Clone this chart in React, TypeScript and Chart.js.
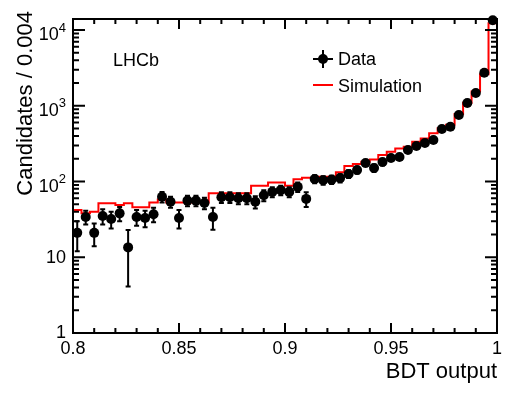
import React, { useEffect, useRef } from "react";
import { Chart, registerables } from "chart.js";
Chart.register(...registerables);

const FONT = '"Liberation Sans", Arial, Helvetica, sans-serif';

const X_MIN = 0.8;
const X_MAX = 1.0;
const BIN_WIDTH = 0.004;
const Y_MIN = 1;
const Y_MAX = 14000;

const xMajorTicks = [0.8, 0.85, 0.9, 0.95, 1.0];
const xTickLabels = ["0.8", "0.85", "0.9", "0.95", "1"];
const xMinorTicks = [0.81, 0.82, 0.83, 0.84, 0.86, 0.87, 0.88, 0.89, 0.91, 0.92, 0.93, 0.94, 0.96, 0.97, 0.98, 0.99];
const yDecadeExponents = [0, 1, 2, 3, 4];

const dataValues = [
  21, 34, 21, 35, 32, 38, 13.5, 34, 33, 37,
  63, 54, 33, 56, 56, 52, 34, 62, 62, 60,
  60, 54, 66, 73, 77, 73, 85, 59, 108, 104,
  106, 111, 126, 142, 176, 151, 181, 204, 211, 261,
  294, 322, 353, 493, 529, 755, 1087, 1473, 2730, 13500,
];
const dataErrors = [
  9, 7, 7, 8, 8, 8, 9.4, 8, 8, 8,
  10, 9, 9, 9, 9, 9, 11, 10, 10, 10,
  10, 10, 11, 11, 11, 11, 12, 13, 13, 13,
  13, 14, 15, 15, 17, 17, 18, 18, 19, 20,
  22, 23, 24, 28, 29, 35, 42, 48, 65, 140,
];
const simValues = [
  42, 38, 40, 51.5, 51.5, 49, 51.5, 45.7, 45.7, 53,
  58, 53, 53, 53, 53, 53, 70, 70, 70, 70,
  70, 88, 88, 97, 97, 88, 107, 112, 112, 116,
  116, 133, 160, 170, 183, 196, 224, 247, 274, 288,
  335, 371, 433, 504, 560, 780, 1100, 1550, 2600, 12300,
];

const binLow = (i: number) => X_MIN + i * BIN_WIDTH;

const rootStylePlugin = {
  id: "rootStyle",
  beforeDatasetDraw(chart: any, args: any) {
    if (args.index !== 0) return;
    const { ctx } = chart;
    const xs = chart.scales.x;
    const ys = chart.scales.y;
    ctx.save();
    ctx.strokeStyle = "#000";
    ctx.lineWidth = 2;
    dataValues.forEach((v, i) => {
      const e = dataErrors[i];
      const px = xs.getPixelForValue(binLow(i) + BIN_WIDTH / 2);
      const lo = Math.max(v - e, Y_MIN);
      const hi = Math.min(v + e, Y_MAX * 1.2);
      const pLo = ys.getPixelForValue(lo);
      const pHi = ys.getPixelForValue(hi);
      ctx.beginPath();
      ctx.moveTo(px, pLo);
      ctx.lineTo(px, pHi);
      ctx.moveTo(px - 2.5, pLo);
      ctx.lineTo(px + 2.5, pLo);
      ctx.moveTo(px - 2.5, pHi);
      ctx.lineTo(px + 2.5, pHi);
      ctx.stroke();
    });
    ctx.restore();
  },
  afterDraw(chart: any) {
    const { ctx, chartArea } = chart;
    const { left, right, top, bottom } = chartArea;
    const xs = chart.scales.x;
    const ys = chart.scales.y;
    ctx.save();
    ctx.strokeStyle = "#000";
    ctx.fillStyle = "#000";
    ctx.lineWidth = 2;
    ctx.lineCap = "butt";
    // frame
    ctx.strokeRect(left, top, right - left, bottom - top);
    // x ticks
    const drawX = (v: number, len: number) => {
      const px = xs.getPixelForValue(v);
      ctx.beginPath();
      ctx.moveTo(px, bottom);
      ctx.lineTo(px, bottom - len);
      ctx.moveTo(px, top);
      ctx.lineTo(px, top + len);
      ctx.stroke();
    };
    xMajorTicks.forEach((v) => drawX(v, 10));
    xMinorTicks.forEach((v) => drawX(v, 5));
    // y ticks
    yDecadeExponents.forEach((d) => {
      for (let k = 1; k <= 9; k++) {
        const v = k * Math.pow(10, d);
        if (v > Y_MAX) break;
        const py = ys.getPixelForValue(v);
        const len = k === 1 ? 12 : 6;
        ctx.beginPath();
        ctx.moveTo(left, py);
        ctx.lineTo(left + len, py);
        ctx.moveTo(right, py);
        ctx.lineTo(right - len, py);
        ctx.stroke();
      }
    });
    // x labels
    ctx.font = `18px ${FONT}`;
    ctx.textAlign = "center";
    ctx.textBaseline = "middle";
    xMajorTicks.forEach((v, i) => {
      ctx.fillText(xTickLabels[i], xs.getPixelForValue(v), bottom + 16);
    });
    // y labels
    yDecadeExponents.forEach((d) => {
      const py = ys.getPixelForValue(Math.pow(10, d));
      const xr = left - 7;
      ctx.textBaseline = "middle";
      ctx.textAlign = "right";
      if (d === 0) {
        ctx.font = `18px ${FONT}`;
        ctx.fillText("1", xr, py);
      } else if (d === 1) {
        ctx.font = `18px ${FONT}`;
        ctx.fillText("10", xr, py + 1);
      } else {
        ctx.font = `13px ${FONT}`;
        const exp = String(d);
        const ew = ctx.measureText(exp).width;
        ctx.fillText(exp, xr, py - 2);
        ctx.font = `18px ${FONT}`;
        ctx.fillText("10", xr - ew, py + 5);
      }
    });
    // axis titles
    ctx.font = `22px ${FONT}`;
    ctx.textAlign = "right";
    ctx.textBaseline = "alphabetic";
    ctx.fillText("BDT output", right, bottom + 45);
    ctx.save();
    ctx.translate(32, 11);
    ctx.rotate(-Math.PI / 2);
    ctx.textAlign = "right";
    ctx.fillText("Candidates / 0.004", 0, 0);
    ctx.restore();
    // LHCb
    ctx.font = `18px ${FONT}`;
    ctx.textAlign = "left";
    ctx.textBaseline = "alphabetic";
    ctx.fillText("LHCb", 113, 66);
    // legend
    const mx = 323;
    const my = 59;
    ctx.beginPath();
    ctx.moveTo(mx - 10, my);
    ctx.lineTo(mx + 10, my);
    ctx.moveTo(mx, my - 9);
    ctx.lineTo(mx, my + 9);
    ctx.stroke();
    ctx.beginPath();
    ctx.arc(mx, my, 5, 0, Math.PI * 2);
    ctx.fill();
    ctx.fillText("Data", 338, 65);
    ctx.strokeStyle = "#ff0000";
    ctx.beginPath();
    ctx.moveTo(313, 85);
    ctx.lineTo(333, 85);
    ctx.stroke();
    ctx.fillText("Simulation", 338, 92);
    ctx.restore();
  },
};

export default function App() {
  const canvasRef = useRef<HTMLCanvasElement | null>(null);
  useEffect(() => {
    if (!canvasRef.current) return;
    const dataPoints = dataValues.map((v, i) => ({ x: binLow(i) + BIN_WIDTH / 2, y: v }));
    const simPoints = [{ x: X_MIN, y: Y_MIN }];
    simValues.forEach((v, i) => simPoints.push({ x: binLow(i), y: v }));
    simPoints.push({ x: X_MAX, y: simValues[simValues.length - 1] });
    const chart = new Chart(canvasRef.current, {
      type: "scatter",
      data: {
        datasets: [
          {
            type: "scatter",
            label: "Data",
            data: dataPoints,
            pointRadius: 5,
            pointBackgroundColor: "#000",
            pointBorderColor: "#000",
            pointBorderWidth: 0,
            order: 0,
            clip: 10,
          } as any,
          {
            type: "line",
            label: "Simulation",
            data: simPoints,
            stepped: "before",
            borderColor: "#ff0000",
            borderWidth: 2,
            pointRadius: 0,
            fill: false,
            order: 1,
          } as any,
        ],
      },
      options: {
        responsive: false,
        animation: false,
        devicePixelRatio: 1,
        layout: { padding: { left: 73, right: 26, top: 19, bottom: 64 } },
        plugins: { legend: { display: false }, tooltip: { enabled: false } },
        scales: {
          x: { type: "linear", min: X_MIN, max: X_MAX, display: false },
          y: { type: "logarithmic", min: Y_MIN, max: Y_MAX, display: false },
        },
      },
      plugins: [rootStylePlugin],
    });
    return () => chart.destroy();
  }, []);
  return (
    <div style={{ position: "absolute", left: 0, top: 0, width: 523, height: 397, background: "#fff" }}>
      <canvas ref={canvasRef} width={523} height={397} style={{ display: "block" }} />
    </div>
  );
}
